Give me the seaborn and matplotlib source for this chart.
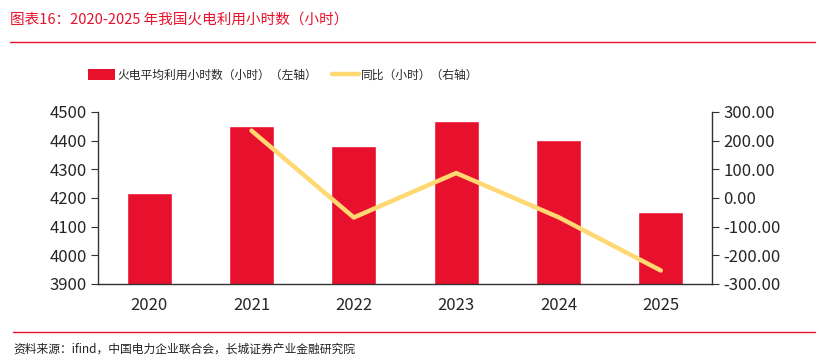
import matplotlib
matplotlib.use("Agg")
import matplotlib.pyplot as plt
import numpy as np
import pandas as pd
import seaborn as sns
from matplotlib.patches import Patch
from matplotlib.lines import Line2D

years = ["2020", "2021", "2022", "2023", "2024", "2025"]
hours = [4216, 4451, 4383, 4470, 4403, 4150]
yoy = [np.nan, 235, -68, 87, -67, -253]

bar_label = "火电平均利用小时数（小时）（左轴）"
line_label = "同比（小时）（右轴）"
title = "图表16：2020-2025 年我国火电利用小时数（小时）"
source = "资料来源：ifind，中国电力企业联合会，长城证券产业金融研究院"

RED = "#E8112D"
YELLOW = "#FFD872"

sns.set_style("white")
plt.rcParams["font.family"] = ["Noto Sans CJK SC", "DejaVu Sans"]

df = pd.DataFrame({"year": years, "hours": hours, "yoy": yoy})
df["pos"] = np.arange(len(df))

fig = plt.figure(figsize=(8.19, 3.64), dpi=100)
ax = fig.add_axes([98 / 819, 1 - 284 / 364, (712 - 98) / 819, (284 - 112) / 364])

sns.barplot(data=df, x="year", y="hours", color=RED, width=0.44,
            saturation=1, ax=ax)
ax.set_ylim(3900, 4500)
ax.set_yticks(np.arange(3900, 4501, 100))
ax.set_xlim(-0.5, len(years) - 0.5)
ax.set_xlabel("")
ax.set_ylabel("")

# major ticks at category boundaries, labels on minor ticks at centres
ax.set_xticks(np.arange(-0.5, len(years), 1))
ax.set_xticklabels([])
ax.set_xticks(df["pos"], minor=True)
ax.set_xticklabels(years, minor=True)
ax.tick_params(axis="x", which="major", direction="out", length=5, color="#333333", width=1)
ax.tick_params(axis="x", which="minor", length=0, labelsize=12, pad=9)
ax.tick_params(axis="y", direction="out", length=5, color="#333333", labelsize=12, pad=3)

ax2 = ax.twinx()
sns.lineplot(data=df, x="pos", y="yoy", color=YELLOW, linewidth=3.2, ax=ax2)
ax2.set_ylim(-300, 300)
ax2.set_yticks(np.arange(-300, 301, 100))
ax2.set_yticklabels([f"{v:.2f}" for v in np.arange(-300, 301, 100)])
ax2.set_ylabel("")
ax2.tick_params(axis="y", direction="out", length=5, color="#333333", labelsize=12, pad=3)

for a in (ax, ax2):
    a.spines["top"].set_visible(False)
    for s in ("left", "right", "bottom"):
        a.spines[s].set_color("#333333")
        a.spines[s].set_linewidth(1)
ax.spines["right"].set_visible(False)
ax2.spines["left"].set_visible(False)
ax2.spines["bottom"].set_visible(False)

handles = [Patch(facecolor=RED, edgecolor="none"),
           Line2D([0], [0], color=YELLOW, linewidth=3.2)]
fig.legend(handles, [bar_label, line_label], loc="center left",
           bbox_to_anchor=(88 / 819, 1 - 75 / 364), ncol=2, frameon=False,
           fontsize=8.5, handlelength=2.3, handleheight=1.0,
           handletextpad=0.15, columnspacing=1.3, borderaxespad=0,
           borderpad=0)

# header and footer
fig.text(10 / 819, 1 - 20 / 364, title, color=RED, fontsize=10.5, va="center", ha="left")
fig.add_artist(Line2D([10 / 819, 815 / 819], [1 - 42 / 364] * 2, color=RED, linewidth=1))
fig.add_artist(Line2D([13 / 819, 815 / 819], [1 - 332 / 364] * 2, color=RED, linewidth=1))
fig.text(13 / 819, 1 - 349 / 364, source, color="#222222", fontsize=8.5, va="center", ha="left")

fig.savefig("out.png", dpi=100)
